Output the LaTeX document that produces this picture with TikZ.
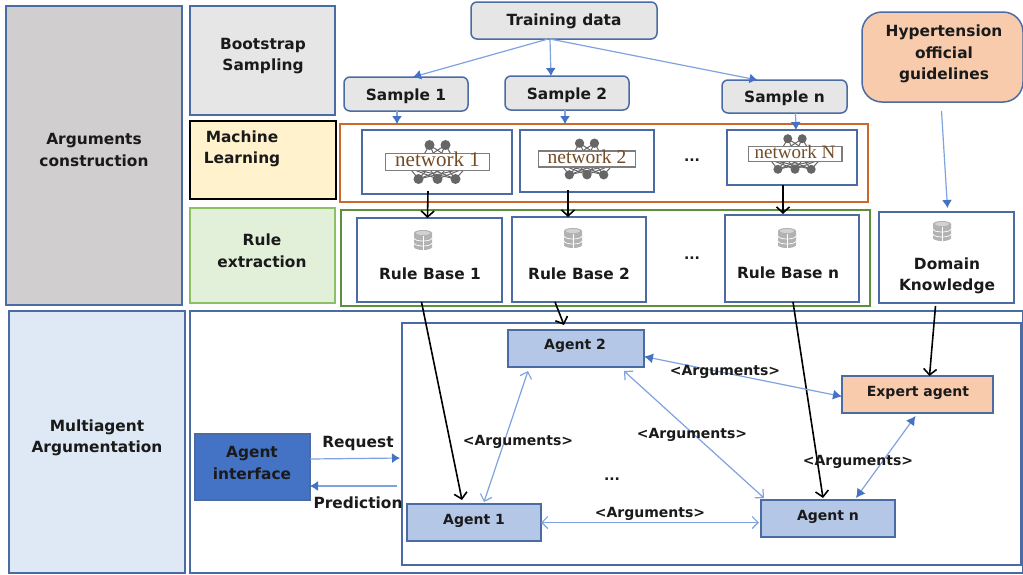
\documentclass[tikz,border=0pt]{standalone}
\usepackage{fontspec}
\setmainfont{DejaVu Sans}
\newfontfamily\netfont{Liberation Serif}
\usetikzlibrary{arrows.meta,calc}
\definecolor{bdr}{HTML}{4A6BA3}
\definecolor{arrb}{HTML}{4472C4}
\definecolor{arrl}{HTML}{7FA3E0}
\definecolor{txt}{HTML}{1A1A1A}
\definecolor{agentc}{HTML}{B4C7E7}
\definecolor{argc}{HTML}{D0CECE}
\definecolor{multic}{HTML}{DEE9F5}
\definecolor{mlc}{HTML}{FFF2CC}
\definecolor{rulec}{HTML}{E2F0D9}
\definecolor{rulebd}{HTML}{8CC063}
\definecolor{peach}{HTML}{F8CBAD}
\definecolor{grpor}{HTML}{C96A2B}
\definecolor{grpgr}{HTML}{5E8F3A}
\definecolor{boxgray}{HTML}{E6E6E6}
\definecolor{netgray}{HTML}{666666}
\tikzset{
  x=1pt,y=-1pt,
  lbl/.style={font=\fontsize{15.4}{21.5}\selectfont\bfseries,text=txt,align=center,inner sep=0pt,outer sep=0pt},
  slbl/.style={font=\fontsize{14}{18}\selectfont\bfseries,text=txt,align=center,inner sep=0pt,outer sep=0pt},
  box/.style={draw=bdr,line width=1.5pt,fill=white,inner sep=0pt,outer sep=0pt},
  grayround/.style={box,fill=boxgray,rounded corners=6pt},
  agentbox/.style={box,fill=agentc},
  soft/.style={line width=1.2pt,draw=arrl},
  fwd/.style={soft,-{Latex[length=8pt,width=10pt,color=arrb]}},
  twofilled/.style={soft,{Latex[length=9pt,width=10pt,color=arrb]}-{Latex[length=9pt,width=10pt,color=arrb]}},
  twoopen/.style={soft,{Straight Barb[length=6pt,width=12pt]}-{Straight Barb[length=6pt,width=12pt]}},
  heavy/.style={line width=1.6pt,draw=black,-{Straight Barb[length=6pt,width=13pt]}},
}
\newcommand{\bx}[7]{\node[#2,minimum width={#5pt-#3pt},minimum height={#6pt-#4pt}] (#1) at ({(#3+#5)/2},{(#4+#6)/2}) {#7};}
% network icon: name, centre x, centre y, scale, font size, text
\newcommand{\netw}[6]{%
  \begin{scope}[shift={(#2,#3)},scale=#4]
    \foreach \tx in {-8,8} \foreach \mx in {-18,0,18} \draw[netgray,line width=1pt] (\tx,-17) -- (\mx,0);
    \foreach \mx in {-28,-9,9,28} \foreach \bxx in {-19,0,18} \draw[netgray,line width=1pt] (\mx,6) -- (\bxx,17);
    \foreach \tx in {-8,8} \fill[netgray] (\tx,-17) circle (5);
    \foreach \bxx in {-19,0,18} \fill[netgray] (\bxx,17) circle (5);
  \end{scope}
  \node[draw=netgray!85,line width=1.4pt,fill=white,inner sep=0pt,minimum width={#4*104pt},minimum height={#4*17pt},text=brown!60!black,font=\netfont\fontsize{#5}{20}\selectfont] (#1) at (#2,#3) {\raisebox{-4pt}[0pt][0pt]{#6}};}
% database icon
\newcommand{\dbicon}[2]{%
  \begin{scope}[shift={(#1,#2)}]
    \fill[gray!60] (-9,-7) -- (-9,7) arc[x radius=9,y radius=3,start angle=180,end angle=0] -- (9,-7) arc[x radius=9,y radius=3,start angle=0,end angle=-180];
    \fill[gray!35] (0,-7) ellipse[x radius=7,y radius=2];
    \draw[white,line width=.7pt] (-9,-2) arc[x radius=9,y radius=3,start angle=180,end angle=0];
    \draw[white,line width=.7pt] (-9,3) arc[x radius=9,y radius=3,start angle=180,end angle=0];
    \draw[white,line width=.5pt] (0,-4) -- (0,10);
  \end{scope}}
\newcommand{\smp}[1]{\raisebox{-6pt}[0pt][0pt]{\fontsize{15.4}{16}\selectfont\bfseries\color{txt}#1}}
\begin{document}
\begin{tikzpicture}
\useasboundingbox (0,0) rectangle (1023,574);
\fill[white] (0,0) rectangle (1023,574);
% left column
\bx{args}{box,fill=argc}{6}{6}{182}{305}{}
\bx{multi}{box,fill=multic}{9}{311}{185}{573}{}
\node[lbl] (argst) at (94,150) {Arguments\\construction};
\node[lbl] (multit) at (97,438) {Multiagent\\Argumentation};
\bx{boot}{box,fill=boxgray}{190}{6}{335}{115}{}
\node[lbl] (boott) at (263,56) {Bootstrap\\Sampling};
\bx{ml}{draw=black,line width=1.5pt,fill=mlc,inner sep=0pt,outer sep=0pt}{190}{121}{336}{199}{}
\node[lbl] (mlt) at (242,149) {Machine\\Learning};
\bx{rule}{draw=rulebd,line width=1.5pt,fill=rulec,inner sep=0pt,outer sep=0pt}{190}{208}{335}{303}{}
\node[lbl] (rulet) at (262,251) {Rule\\extraction};
% big panels
\bx{panel}{box}{190}{311}{1023}{573}{}
\bx{inner}{box}{402}{323}{1021}{565}{}
\bx{mlgrp}{draw=grpor,line width=1.5pt,inner sep=0pt,outer sep=0pt}{340}{124}{868}{202}{}
\bx{rugrp}{draw=grpgr,line width=1.5pt,inner sep=0pt,outer sep=0pt}{341}{210}{870}{306}{}
% top
\bx{td}{grayround}{471}{2}{657}{39}{}
\node[lbl] (tdt) at (564,21) {Training data};
\bx{s1}{grayround}{344}{77}{468}{111}{\smp{Sample 1}}
\bx{s2}{grayround}{505}{76}{629}{110}{\smp{Sample 2}}
\bx{sn}{grayround}{722}{80}{847}{113}{\smp{Sample n}}
\bx{hyp}{box,fill=peach,rounded corners=20pt}{862}{12}{1023}{102}{}
\node[lbl] (hypt) at (944,54) {Hypertension\\official\\guidelines};
% networks
\bx{n1}{box}{362}{130}{512}{194}{}
\bx{n2}{box}{520}{130}{654}{192}{}
\bx{nn}{box}{727}{130}{857}{185}{}
\netw{i1}{437.5}{162}{1}{21}{network 1}
\netw{i2}{587}{159}{.93}{19.5}{network 2}
\netw{iN}{795}{154}{.9}{19}{network N}
\node[slbl] (dots1) at (692,160) {...};
% rule bases
\bx{r1}{box}{357}{218}{502}{302}{}
\bx{r2}{box}{512}{217}{646}{302}{}
\bx{rn}{box}{725}{215}{859}{302}{}
\bx{dk}{box}{879}{212}{1014}{303}{}
\dbicon{423}{240}
\dbicon{573}{238}
\dbicon{787}{238}
\dbicon{942}{231}
\node[lbl] (r1t) at (430,274) {Rule Base 1};
\node[lbl] (r2t) at (579,274) {Rule Base 2};
\node[lbl] (rnt) at (788,273) {Rule Base n};
\node[lbl] (dkt) at (947,276) {Domain\\Knowledge};
\node[slbl] (dots2) at (692,258) {...};
% agents
\bx{a2}{agentbox}{508}{330}{644}{367}{}
\node[slbl] (a2t) at (575,346) {Agent 2};
\bx{a1}{agentbox}{407}{504}{541}{541}{}
\node[slbl] (a1t) at (474,521) {Agent 1};
\bx{an}{agentbox}{761}{500}{895}{537}{}
\node[slbl] (ant) at (828,517) {Agent n};
\bx{ea}{box,fill=peach}{842}{376}{993}{413}{}
\node[slbl] (eat) at (918,393) {Expert agent};
\bx{ai}{box,fill=arrb}{195}{434}{310}{500}{}
\node[lbl] (ait) at (252,463) {Agent\\interface};
% connectors
\draw[fwd] ([xshift=-16pt]td.south) -- ([xshift=7pt]s1.north);
\draw[fwd] ([xshift=-14pt]td.south) -- ([xshift=-16pt]s2.north);
\draw[fwd] ([xshift=-14pt]td.south) -- ([xshift=-27pt]sn.north);
\draw[fwd] ([xshift=-9pt]s1.south) -- ([xshift=57pt]mlgrp.north west);
\draw[fwd] ([xshift=-2pt]s2.south) -- ([xshift=225pt]mlgrp.north west);
\draw[fwd] ([xshift=11pt]sn.south) -- ([xshift=4pt]nn.north);
\draw[fwd] ([yshift=-9pt,xshift=-1pt]hyp.south) -- ([xshift=1pt,yshift=4pt]dk.north);
\draw[heavy] ([xshift=-9pt,yshift=3pt]n1.south) -- ([xshift=-2pt]r1.north);
\draw[heavy] ([xshift=-19pt,yshift=2pt]n2.south) -- ([xshift=-11pt]r2.north);
\draw[heavy] ([xshift=-9pt]nn.south) -- ([xshift=-9pt,yshift=1pt]rn.north);
\draw[heavy] ([xshift=-8pt]r1.south) -- ([xshift=-12pt,yshift=4pt]a1.north);
\draw[heavy] ([xshift=-24pt]r2.south) -- ([xshift=-12pt,yshift=5pt]a2.north);
\draw[heavy] ([xshift=1pt]rn.south) -- ([xshift=-5pt,yshift=2pt]an.north);
\draw[heavy] ([xshift=-11pt,yshift=-3pt]dk.south) -- ([xshift=12pt]ea.north);
\draw[twoopen] ([xshift=10pt,yshift=2pt]a1.north) -- ([xshift=-48pt,yshift=-4pt]a2.south);
\draw[twofilled] ([yshift=-8pt]a2.east) -- ([yshift=-2pt]ea.west);
\draw[twoopen] ([xshift=48pt,yshift=-4pt]a2.south) -- ([xshift=3pt,yshift=2pt]an.north west);
\draw[twoopen] ([yshift=0pt]a1.east) -- ([yshift=-4pt,xshift=-2pt]an.west);
\draw[twofilled] ([xshift=-2pt,yshift=-3pt]ea.south) -- ([xshift=28pt,yshift=2pt]an.north);
\draw[fwd] ([yshift=-25pt]ai.north east) -- ([yshift=-135pt,xshift=-2pt]inner.north west);
\draw[fwd] ([yshift=-163pt,xshift=-5pt]inner.north west) -- ([yshift=-52pt]ai.north east);
% connector labels
\node[slbl] (lbla) at (518,442) {<Arguments>};
\node[slbl] (lblb) at (725,372) {<Arguments>};
\node[slbl] (lblc) at (692,435) {<Arguments>};
\node[slbl] (lbld) at (858,462) {<Arguments>};
\node[slbl] (lble) at (650,514) {<Arguments>};
\node[slbl] (dots3) at (612,479) {...};
\node[lbl] (req) at (358,443) {Request};
\node[lbl] (pred) at (358,503) {Prediction};
\end{tikzpicture}
\end{document}
